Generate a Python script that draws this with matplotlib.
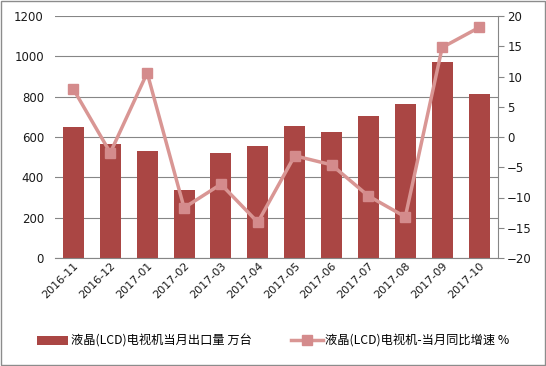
import matplotlib.pyplot as plt
import numpy as np

plt.rcParams['font.family'] = ['DejaVu Sans', 'Noto Sans CJK SC']

months = ['2016-11', '2016-12', '2017-01', '2017-02', '2017-03', '2017-04',
          '2017-05', '2017-06', '2017-07', '2017-08', '2017-09', '2017-10']
volume = [650, 565, 531, 337, 521, 555, 655, 625, 704, 764, 972, 813]
growth = [7.9, -2.6, 10.6, -11.7, -7.8, -14.1, -3.1, -4.6, -9.75, -13.2, 14.8, 18.1]

bar_label = '液晶(LCD)电视机当月出口量 万台'
line_label = '液晶(LCD)电视机-当月同比增速 %'

bar_color = '#AA4644'
line_color = '#D99694'
marker_color = '#D48B8C'
grid_color = '#868686'
text_color = '#1a1a1a'

fig = plt.figure(figsize=(5.46, 3.66), dpi=100)
ax = fig.add_axes([55 / 546, 1 - 258 / 366, (497.5 - 55) / 546, (258 - 16) / 366])

x = np.arange(len(months))
bars = ax.bar(x, volume, width=0.57, color=bar_color, zorder=2, label=bar_label)
ax.set_xlim(-0.5, len(months) - 0.5)
ax.set_ylim(0, 1200)
ax.set_yticks(np.arange(0, 1201, 200))
ax.yaxis.grid(True, color=grid_color, linewidth=0.8, zorder=0)
ax.set_axisbelow(True)
for side in ['left', 'right', 'top']:
    ax.spines[side].set_visible(False)
ax.spines['bottom'].set_color(grid_color)
ax.tick_params(axis='y', length=0, labelsize=8.5, colors=text_color, pad=8)
ax.tick_params(axis='x', length=0, labelsize=8, colors=text_color, pad=2)
ax.set_xticks(x)
ax.set_xticklabels(months, rotation=45, ha='right', rotation_mode='anchor')

ax2 = ax.twinx()
line, = ax2.plot(x, growth, color=line_color, linewidth=2.5, marker='s',
                 markersize=7, markerfacecolor=marker_color,
                 markeredgecolor=marker_color, zorder=3, label=line_label)
ax2.set_ylim(-20, 20)
ax2.set_yticks(np.arange(-20, 21, 5))
for side in ['left', 'top', 'bottom']:
    ax2.spines[side].set_visible(False)
ax2.spines['right'].set_color(grid_color)
ax2.tick_params(axis='y', direction='out', length=4, labelsize=8.5, pad=3,
                colors=grid_color, labelcolor=text_color)

fig.legend([bars, line], [bar_label, line_label], loc='center',
           bbox_to_anchor=(0.5, 1 - 341 / 366), ncol=2, frameon=False,
           handlelength=2.6, handletextpad=0.2, columnspacing=3.2,
           prop={'family': ['Noto Sans CJK SC', 'DejaVu Sans'], 'size': 8.8})

fig.patches.append(plt.Rectangle((1 / 546, 1 / 366), 544 / 546, 364 / 366,
                                 transform=fig.transFigure, fill=False,
                                 edgecolor='#8c8c8c', linewidth=1))

fig.savefig('out.png', dpi=100)
